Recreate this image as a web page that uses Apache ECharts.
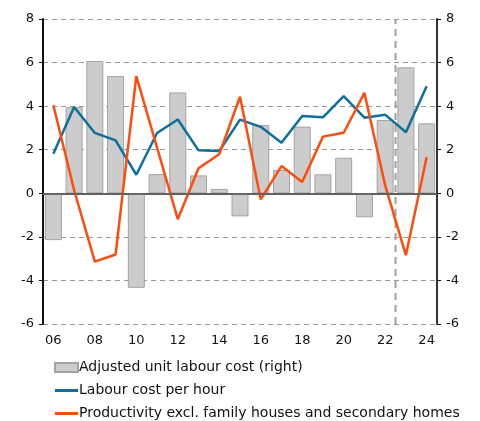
<!DOCTYPE html>
<html>
<head>
<meta charset="utf-8">
<script src="https://cdn.jsdelivr.net/npm/echarts@6/dist/echarts.min.js"></script>
<style>
  html, body { margin: 0; padding: 0; background: #fff; }
</style>
</head>
<body>
<div id="chart" style="width: 480px; height: 421px"></div>
<script>
const years = ['06', '07', '08', '09', '10', '11', '12', '13', '14', '15', '16', '17', '18', '19', '20', '21', '22', '23', '24']
const unitLabourCost = [-2.15, 3.95, 6.07, 5.38, -4.34, 0.88, 4.63, 0.82, 0.2, -1.06, 3.13, 1.07, 3.06, 0.87, 1.63, -1.1, 3.36, 5.78, 3.21]
const labourCostPerHour = [1.82, 3.96, 2.77, 2.43, 0.85, 2.77, 3.39, 1.97, 1.94, 3.38, 3.05, 2.32, 3.55, 3.49, 4.46, 3.47, 3.61, 2.8, 4.91]
const productivity = [4.04, 0.15, -3.14, -2.81, 5.38, 2.1, -1.19, 1.15, 1.79, 4.43, -0.28, 1.25, 0.52, 2.6, 2.78, 4.61, 0.36, -2.84, 1.65]
const forecastStart = 17 // boundary between 22 and 23
const yTicks = { min: -6, max: 8, interval: 2 }

const chart = echarts.init(document.getElementById('chart'))
const font = 'DejaVu Sans, Verdana, sans-serif'

const names = {
  ulc: 'Adjusted unit labour cost (right)',
  hour: 'Labour cost per hour',
  prod: 'Productivity excl. family houses and secondary homes'
}
// thin bar used as legend icon for the lines
const lineIcon = 'path://M0,0 H23 V3 H0 Z'

const option = {
  animation: false,
  backgroundColor: '#fff',
  textStyle: { fontFamily: font },
  grid: { left: 43, right: 43, top: 19, bottom: 97 },
  legend: {
    orient: 'vertical',
    left: 54,
    top: 360,
    padding: 0,
    itemWidth: 23,
    itemHeight: 9,
    itemGap: 8,
    textStyle: { fontSize: 14, lineHeight: 15, color: '#111', padding: [0, 0, 0, -4] },
    data: [
      { name: names.ulc, icon: 'rect' },
      { name: names.hour, icon: lineIcon },
      { name: names.prod, icon: lineIcon }
    ]
  },
  xAxis: [
    {
      type: 'category',
      data: years,
      axisLine: { lineStyle: { color: '#111', width: 2 } },
      axisTick: { inside: true, length: 5, interval: 0, lineStyle: { color: '#111' } },
      axisLabel: { interval: 1, fontSize: 13, color: '#111', margin: 10 }
    },
    {
      // hidden value axis: top frame line and the forecast marker
      type: 'value',
      position: 'top',
      min: 0,
      max: years.length,
      z: 5,
      axisLine: { show: true, lineStyle: { color: '#555', width: 1.5 } },
      axisTick: { show: false },
      axisLabel: { show: false },
      splitLine: { show: false }
    }
  ],
  yAxis: [
    {
      type: 'value',
      min: yTicks.min,
      max: yTicks.max,
      interval: yTicks.interval,
      axisLine: { show: true, lineStyle: { color: '#111', width: 2 } },
      axisTick: { show: true, length: 4, lineStyle: { color: '#111' } },
      axisLabel: { fontSize: 13, color: '#111', margin: 9 },
      splitLine: { lineStyle: { color: '#999', type: [5, 4], width: 1.2 } }
    },
    {
      type: 'value',
      position: 'right',
      min: yTicks.min,
      max: yTicks.max,
      interval: yTicks.interval,
      axisLine: { show: true, lineStyle: { color: '#333', width: 2 } },
      axisTick: { show: true, length: 4, lineStyle: { color: '#111' } },
      axisLabel: { fontSize: 13, color: '#111', margin: 9 },
      splitLine: { show: false }
    }
  ],
  series: [
    {
      name: names.ulc,
      type: 'bar',
      yAxisIndex: 1,
      data: unitLabourCost,
      barWidth: 17,
      itemStyle: { color: '#cccccc', borderColor: '#a3a3a3', borderWidth: 1 },
      markLine: {
        silent: true,
        symbol: 'none',
        label: { show: false },
        lineStyle: { color: '#a0a0a0', type: 'solid', width: 1.5 },
        data: [{ yAxis: 0 }]
      },
      z: 1
    },
    {
      name: 'forecast',
      type: 'line',
      xAxisIndex: 1,
      data: [[forecastStart, yTicks.min], [forecastStart, yTicks.max]],
      symbol: 'none',
      lineStyle: { color: '#a0a0a0', type: [7, 5], width: 2 },
      silent: true,
      z: 2
    },
    {
      name: names.hour,
      type: 'line',
      data: labourCostPerHour,
      symbol: 'none',
      lineStyle: { color: '#0e6e9c', width: 2.5 },
      itemStyle: { color: '#0e6e9c' },
      z: 3
    },
    {
      name: names.prod,
      type: 'line',
      data: productivity,
      symbol: 'none',
      lineStyle: { color: '#ff4c0c', width: 2.5 },
      itemStyle: { color: '#ff4c0c' },
      z: 4
    }
  ]
}

chart.setOption(option)

window.addEventListener('resize', () => {
  chart.resize()
})
</script>
</body>
</html>
